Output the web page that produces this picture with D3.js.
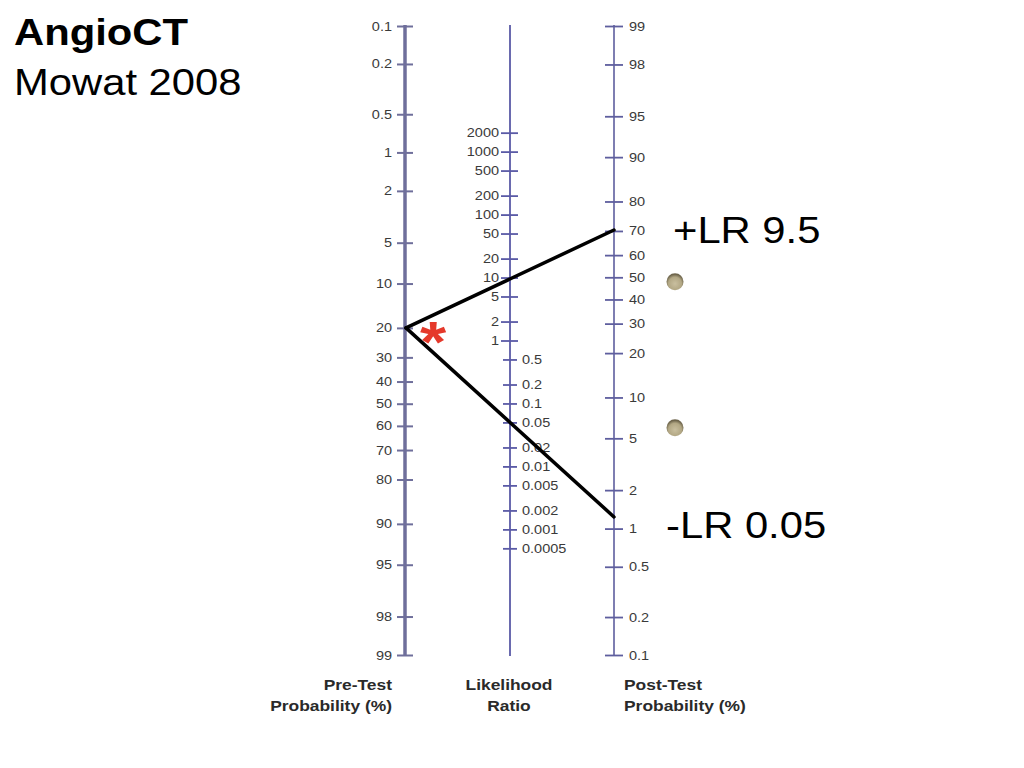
<!DOCTYPE html>
<html><head><meta charset="utf-8">
<script src="https://cdn.jsdelivr.net/npm/d3@7"></script>
<style>
html,body{margin:0;padding:0;background:#fff;}
svg{display:block;}
text{font-family:"Liberation Sans",Arial,sans-serif;}
</style></head>
<body>
<script>
// ---- data ----
const preTicks = [0.1,0.2,0.5,1,2,5,10,20,30,40,50,60,70,80,90,95,98,99];
const lrTicksHigh = [2000,1000,500,200,100,50,20,10,5,2,1];
const lrTicksLow = [0.5,0.2,0.1,0.05,0.02,0.01,0.005,0.002,0.001,0.0005];
const postTicks = [99,98,95,90,80,70,60,50,40,30,20,10,5,2,1,0.5,0.2,0.1];
const preTest = 20;                 // pre-test probability (%)
const lrValues = [9.5, 0.05];       // +LR, -LR
const lrLabels = ["+LR 9.5", "-LR 0.05"];
const dotPost = [48, 6];            // marker dots (post-test %)
const titleLines = ["AngioCT", "Mowat 2008"];
const axisTitles = [["Pre-Test","Probability (%)"],["Likelihood","Ratio"],["Post-Test","Probability (%)"]];

const W = 1024, H = 768, SX = 1.16;
const logit = p => Math.log(p/(1-p));
const xPre = 405, xLR = 510, xPost = 614, yTop = 26, yBot = 655;

const preScale = d3.scaleLinear().domain([logit(0.001), logit(0.99)]).range([yTop, yBot]);
const postScale = d3.scaleLinear().domain([logit(0.99), logit(0.001)]).range([yTop, yBot]);
const k = (yBot - yTop) / (logit(0.99) - logit(0.001));
const mid = (preScale(0) + postScale(0)) / 2;
const lrScale = d3.scaleLog().domain([0.0005, 2000])
  .range([mid - k/2*Math.log(0.0005), mid - k/2*Math.log(2000)]);

const svg = d3.select("body").append("svg").attr("width", W).attr("height", H);
const defs = svg.append("defs");
const grad = defs.append("radialGradient").attr("id","dotg").attr("cx","50%").attr("cy","62%").attr("r","55%");
grad.append("stop").attr("offset","0%").attr("stop-color","#c9bf9f");
grad.append("stop").attr("offset","70%").attr("stop-color","#b2a784");
grad.append("stop").attr("offset","100%").attr("stop-color","#6e654c");

function styleAxis(g, color, tickW){
  g.select(".domain").remove();
  g.selectAll(".tick line").attr("stroke", color).attr("stroke-width", tickW);
  g.selectAll(".tick text").attr("fill","#3a3a3a").style("font-size","12.5px");
}

// Pre-test axis
const gPre = svg.append("g").attr("transform", `translate(${xPre},0)`);
gPre.append("line").attr("y1", yTop-1).attr("y2", yBot+1).attr("stroke","#6f6f9b").attr("stroke-width",3.5);
gPre.call(d3.axisLeft(preScale).tickValues(preTicks.map(p=>logit(p/100)))
  .tickFormat((d,i)=>String(preTicks[i])).tickSize(8).tickPadding(5));
styleAxis(gPre, "#6f6f9b", 2);
gPre.selectAll(".tick line").attr("x1", 8);

// LR axis
const gLR = svg.append("g").attr("transform", `translate(${xLR},0)`);
gLR.append("line").attr("y1", yTop-1).attr("y2", yBot+1).attr("stroke","#5a5aa6").attr("stroke-width",1.8);
const gLRh = gLR.append("g").call(d3.axisLeft(lrScale).tickValues(lrTicksHigh).tickFormat(d=>String(d)).tickSize(9).tickPadding(2));
styleAxis(gLRh, "#5a5aa6", 1.8);
gLRh.selectAll(".tick line").attr("x1", 8);
const gLRl = gLR.append("g").call(d3.axisRight(lrScale).tickValues(lrTicksLow).tickFormat(d=>String(d)).tickSize(7).tickPadding(5));
styleAxis(gLRl, "#5a5aa6", 1.8);
gLRl.selectAll(".tick line").attr("x1", -7);

// Post-test axis
const gPost = svg.append("g").attr("transform", `translate(${xPost},0)`);
gPost.append("line").attr("y1", yTop-1).attr("y2", yBot+1).attr("stroke","#5e5e9e").attr("stroke-width",1.6);
gPost.call(d3.axisRight(postScale).tickValues(postTicks.map(p=>logit(p/100)))
  .tickFormat((d,i)=>String(postTicks[i])).tickSize(9).tickPadding(6));
styleAxis(gPost, "#5e5e9e", 1.8);
gPost.selectAll(".tick line").attr("x1", -9);

// Nomogram lines
const yPre = preScale(logit(preTest/100));
lrValues.forEach(lr => {
  const post = logit(preTest/100) + Math.log(lr);
  svg.append("line").attr("x1", xPre+1).attr("y1", yPre).attr("x2", xPost).attr("y2", postScale(post))
    .attr("stroke","#000").attr("stroke-width",3.5).attr("stroke-linecap","round");
});

// asterisk
svg.append("text").attr("x", 433).attr("y", 362).attr("text-anchor","middle")
  .attr("fill","#e5392b").style("font-size","58px").style("font-weight","bold").text("*");

// dots
svg.selectAll("circle.dot").data(dotPost).enter().append("circle").attr("class","dot")
  .attr("cx", xPost + 61).attr("cy", d => postScale(logit(d/100))).attr("r", 8.5)
  .attr("fill","url(#dotg)");

// LR labels
svg.append("text").attr("x", 673).attr("y", 243).style("font-size","36px").attr("fill","#000").text(lrLabels[0]);
svg.append("text").attr("x", 666).attr("y", 538).style("font-size","36px").attr("fill","#000").text(lrLabels[1]);

// title
svg.append("text").attr("x", 14).attr("y", 45).style("font-size","36px").style("font-weight","bold").text(titleLines[0]);
svg.append("text").attr("x", 14).attr("y", 95).style("font-size","36px").text(titleLines[1]);

// axis titles
const tx = [[392,"end"],[509,"middle"],[624,"start"]];
axisTitles.forEach((lines,i)=>{
  lines.forEach((s,j)=>{
    svg.append("text").attr("x", tx[i][0]).attr("y", 690 + j*21).attr("text-anchor", tx[i][1])
      .style("font-size","15px").style("font-weight","bold").attr("fill","#2a2a2a").text(s);
  });
});

// horizontal stretch of all text to match reference aspect
svg.selectAll("text").each(function(){
  const l = this.getComputedTextLength();
  d3.select(this).attr("textLength", l*SX).attr("lengthAdjust","spacingAndGlyphs");
});
</script>
</body></html>
